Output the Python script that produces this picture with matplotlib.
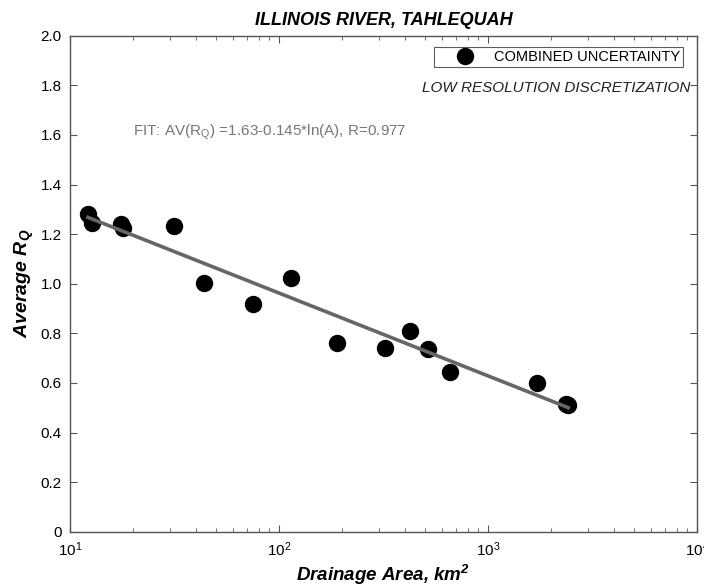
import numpy as np
import matplotlib
matplotlib.use("Agg")
import matplotlib.pyplot as plt
from matplotlib.ticker import LogLocator, NullFormatter, FixedLocator

plt.rcParams["font.family"] = ["Liberation Sans", "DejaVu Sans"]
plt.rcParams["mathtext.fontset"] = "custom"
plt.rcParams["mathtext.rm"] = "Liberation Sans"
plt.rcParams["mathtext.it"] = "Liberation Sans:italic"
plt.rcParams["mathtext.bf"] = "Liberation Sans:bold:italic"

# drainage area (km^2) and average R_Q
area = [12.2, 12.8, 17.5, 18.0, 31.4, 43.6, 74.8, 113.8, 189, 321, 425, 514, 660, 1710, 2350, 2420]
avg_rq = [1.281, 1.244, 1.240, 1.223, 1.233, 1.004, 0.917, 1.022, 0.762, 0.740, 0.810, 0.735, 0.645, 0.598, 0.513, 0.509]

# fit: AV(R_Q) = a + b*ln(A)
fit_a = 1.63
fit_b = -0.145

axis_grey = "#555555"

fig = plt.figure(figsize=(7.04, 5.87), dpi=100)
ax = fig.add_axes([70 / 704, 1 - 531.7 / 587, 627 / 704, 496 / 587])

ax.plot(area, avg_rq, "o", color="black", markersize=11.5, zorder=3, label="COMBINED UNCERTAINTY")
xfit = np.array([min(area), max(area)])
ax.plot(xfit, fit_a + fit_b * np.log(xfit), color="#666666", linewidth=2.6, zorder=4)

ax.set_xscale("log")
ax.set_xlim(10, 1e4)
ax.set_ylim(0, 2.0)
ax.yaxis.set_major_locator(FixedLocator(np.arange(0, 2.01, 0.2)))
ax.set_yticklabels(["0"] + [f"{v:.1f}" for v in np.arange(0.2, 2.01, 0.2)])
ax.xaxis.set_major_locator(LogLocator(base=10))
ax.xaxis.set_minor_locator(LogLocator(base=10, subs=np.arange(2, 10)))
ax.xaxis.set_minor_formatter(NullFormatter())

for s in ax.spines.values():
    s.set_color(axis_grey)
    s.set_linewidth(1.0)
ax.tick_params(which="both", direction="in", top=True, right=True, color=axis_grey, labelsize=11)
ax.tick_params(which="major", length=5, pad=6)
ax.tick_params(which="minor", length=3)

ax.set_title("ILLINOIS RIVER, TAHLEQUAH", fontsize=13, fontweight="bold", fontstyle="italic", pad=8)
ax.set_xlabel(r"Drainage Area, km$^{\mathbf{2}}$", fontsize=13.5, fontweight="bold", fontstyle="italic", labelpad=3)
ax.set_ylabel(r"Average R$_{\mathbf{Q}}$", fontsize=14, fontweight="bold", fontstyle="italic", labelpad=3)

leg = ax.legend(loc="upper right", bbox_to_anchor=(0.978, 0.977), fontsize=10.5, frameon=True, fancybox=False,
                borderpad=0.2, handletextpad=0.1, handlelength=3.8, markerscale=1.0, borderaxespad=0)
leg.get_frame().set_edgecolor("#333333")
leg.get_frame().set_linewidth(0.8)

ax.text(0.99, 0.895, "LOW RESOLUTION DISCRETIZATION", transform=ax.transAxes, ha="right", va="center",
        fontsize=11, fontstyle="italic", color="#222222")
ax.text(0.10, 0.805, r"FIT: AV(R$_\mathrm{Q}$) =1.63-0.145*ln(A), R=0.977", transform=ax.transAxes,
        ha="left", va="center", fontsize=11, color="#777777")

fig.savefig("out.png", dpi=100)
